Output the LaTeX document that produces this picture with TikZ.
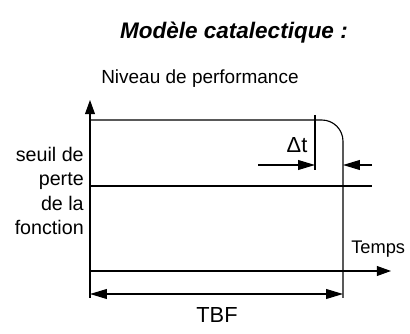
\documentclass[tikz,border=0pt]{standalone}
\usepackage{fontspec}
\setmainfont{Liberation Sans}
\usetikzlibrary{arrows.meta}

\begin{document}
\begin{tikzpicture}[
  x=0.025cm, y=-0.025cm,
  font=\fontsize{13.5}{17}\selectfont,
  line/.style={draw=black, line width=0.8pt},
  axis/.style={line, -{Triangle[length=10pt, width=7pt]}},
  dimarrow/.style={line, -{Triangle[length=12pt, width=7pt]}},
  dimboth/.style={line, {Triangle[length=12pt, width=7pt]}-{Triangle[length=12pt, width=7pt]}},
  label/.style={inner sep=0pt}
]
\useasboundingbox (0,0) rectangle (410,334);

% title
\node[label, font=\fontsize{16}{19}\selectfont\bfseries\itshape] (title) at (234,33) {Modèle catalectique :};

% axes
\coordinate (origin) at (90,271);
\coordinate (ybot) at (90,298);
\coordinate (ytip) at (90,100);
\coordinate (xtip) at (391,271);
\draw[axis] (ybot) -- (ytip);
\draw[axis] (origin) -- (xtip);
\node[label, anchor=west] (niveau) at (101,79) {Niveau de performance};
\node[label, anchor=west, font=\fontsize{13}{16}\selectfont] (temps) at (351,249) {Temps};

% performance curve
\coordinate (perfstart) at (90,120);
\coordinate (perfcorner) at (343,120);
\coordinate (perfend) at (343,298);
\draw[line, rounded corners=0.53cm] (perfstart) -- (perfcorner) -- (perfend);

% threshold
\coordinate (seuilstart) at (90,186);
\coordinate (seuilend) at (372,186);
\draw[line] (seuilstart) -- (seuilend);
\node[label, anchor=east, align=right, font=\fontsize{14}{17.5}\selectfont] (seuil) at (84,191) {seuil de\\perte\\de la\\fonction};

% delta t
\coordinate (dttop) at (315,115);
\coordinate (dtbot) at (315,170);
\draw[line] (dttop) -- (dtbot);
\coordinate (dtleft) at (258,165);
\coordinate (dtmid) at (315,165);
\coordinate (dtright) at (372,165);
\coordinate (dtend) at (343,165);
\draw[dimarrow] (dtleft) -- (dtmid);
\draw[dimarrow] (dtright) -- (dtend);
\node[label, font=\fontsize{15.5}{18}\selectfont] (dt) at (297,145) {Δt};

% TBF
\coordinate (tbfleft) at (90,294);
\coordinate (tbfright) at (343,294);
\draw[dimboth] (tbfleft) -- (tbfright);
\node[label, font=\fontsize{15.5}{18}\selectfont] (tbf) at (217,315) {TBF};
\end{tikzpicture}
\end{document}
